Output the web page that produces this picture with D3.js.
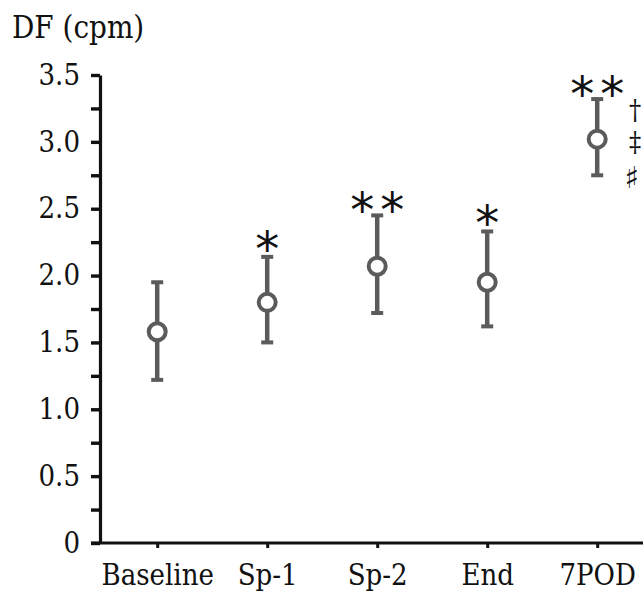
<!DOCTYPE html>
<html>
<head>
<meta charset="utf-8">
<script src="https://cdn.jsdelivr.net/npm/d3@7"></script>
<style>
  body { margin: 0; background: #fff; }
</style>
</head>
<body>
<div id="chart"></div>
<script>
// groups along the x axis
const categories = ["Baseline", "Sp-1", "Sp-2", "End", "7POD"];
// mean DF (cpm) and error bar ends
const means = [1.58, 1.80, 2.07, 1.95, 3.02];
const lower = [1.22, 1.50, 1.72, 1.62, 2.75];
const upper = [1.95, 2.14, 2.45, 2.33, 3.32];
// number of significance asterisks above each group
const stars = [0, 1, 2, 1, 2];
// extra marks beside 7POD
const sideMarks = ["\u2020", "\u2021", "\u266F"];
const yTicks = [0, 0.5, 1.0, 1.5, 2.0, 2.5, 3.0, 3.5];
const yMinorTicks = [0.25, 0.75, 1.25, 1.75, 2.25, 2.75, 3.25];

const W = 643, H = 595;
const markColor = "#5b5b5b";
const serif = "'DejaVu Serif Condensed', 'DejaVu Serif', serif";

const svg = d3.select("#chart").append("svg")
  .attr("width", W)
  .attr("height", H);

// scales
const x = d3.scalePoint()
  .domain(categories)
  .range([100, 654.4])
  .padding(0.52);

const y = d3.scaleLinear()
  .domain([0, 3.5])
  .range([543, 75]);

// y axis: labelled ticks
svg.append("g")
  .attr("class", "y-axis")
  .attr("transform", "translate(100,0)")
  .call(d3.axisLeft(y).tickValues(yTicks).tickSize(9).tickPadding(11)
    .tickSizeOuter(0)
    .tickFormat(d => d === 0 ? "0" : d3.format(".1f")(d)))
  .attr("font-family", serif)
  .call(g => g.select(".domain").attr("stroke", "#111").attr("stroke-width", 3.2))
  .call(g => g.selectAll(".tick line").attr("stroke", "#111").attr("stroke-width", 3.4))
  .call(g => g.selectAll(".tick text")
    .attr("font-size", 29).attr("fill", "#111"));

// y axis: minor ticks
svg.append("g")
  .attr("transform", "translate(100,0)")
  .call(d3.axisLeft(y).tickValues(yMinorTicks).tickSize(9).tickFormat(""))
  .call(g => g.select(".domain").remove())
  .call(g => g.selectAll(".tick line").attr("stroke", "#111").attr("stroke-width", 3.4));

// x axis
svg.append("g")
  .attr("class", "x-axis")
  .attr("transform", "translate(0,543)")
  .call(d3.axisBottom(x).tickSize(5).tickPadding(16).tickSizeOuter(0))
  .attr("font-family", serif)
  .call(g => g.select(".domain").attr("stroke", "#111").attr("stroke-width", 3.2)
    .attr("d", "M91,0H660"))
  .call(g => g.selectAll(".tick line").attr("stroke", "#111").attr("stroke-width", 3))
  .call(g => g.selectAll(".tick text")
    .attr("font-size", 29).attr("fill", "#111"));

// title
svg.append("text")
  .attr("x", 12)
  .attr("y", 38)
  .attr("font-family", serif)
  .attr("font-size", 31)
  .attr("fill", "#111")
  .text("DF (cpm)");

const data = categories.map((c, i) => ({
  cat: c, mean: means[i], lo: lower[i], hi: upper[i], stars: stars[i]
}));

const pts = svg.append("g").attr("class", "points");

// error bars
pts.selectAll("line.err")
  .data(data)
  .join("line")
  .attr("class", "err")
  .attr("x1", d => x(d.cat)).attr("x2", d => x(d.cat))
  .attr("y1", d => y(d.lo)).attr("y2", d => y(d.hi))
  .attr("stroke", markColor).attr("stroke-width", 4.5);

// caps
["lo", "hi"].forEach(k => {
  pts.selectAll("line.cap-" + k)
    .data(data)
    .join("line")
    .attr("class", "cap-" + k)
    .attr("x1", d => x(d.cat) - 6).attr("x2", d => x(d.cat) + 6)
    .attr("y1", d => y(d[k])).attr("y2", d => y(d[k]))
    .attr("stroke", markColor).attr("stroke-width", 4);
});

// mean markers
pts.selectAll("circle")
  .data(data)
  .join("circle")
  .attr("cx", d => x(d.cat))
  .attr("cy", d => y(d.mean))
  .attr("r", 8.5)
  .attr("fill", "#fff")
  .attr("stroke", markColor)
  .attr("stroke-width", 4);

// significance asterisks, one text per star
const starData = data.flatMap(d =>
  d3.range(d.stars).map(j => ({ d, off: d.stars === 1 ? 0 : (j === 0 ? -15 : 15) })));
pts.selectAll("text.sig")
  .data(starData)
  .join("text")
  .attr("class", "sig")
  .attr("x", s => x(s.d.cat) + s.off)
  .attr("y", s => y(s.d.hi) + (s.d.stars === 1 ? 9 : 12))
  .attr("text-anchor", "middle")
  .attr("font-family", "'DejaVu Sans ExtraLight', 'DejaVu Sans'")
  .attr("font-size", 48)
  .attr("fill", "#111")
  .text("*");

// dagger marks beside 7POD
svg.selectAll("text.side")
  .data(sideMarks)
  .join("text")
  .attr("class", "side")
  .attr("x", (d, i) => i < 2 ? 635 : 632)
  .attr("y", (d, i) => [120, 152, 188][i])
  .attr("text-anchor", "middle")
  .attr("font-family", (d, i) => i < 2 ? serif : "DejaVu Sans")
  .attr("font-size", (d, i) => i < 2 ? 27 : 30)
  .attr("fill", "#111")
  .text(d => d);
</script>
</body>
</html>
